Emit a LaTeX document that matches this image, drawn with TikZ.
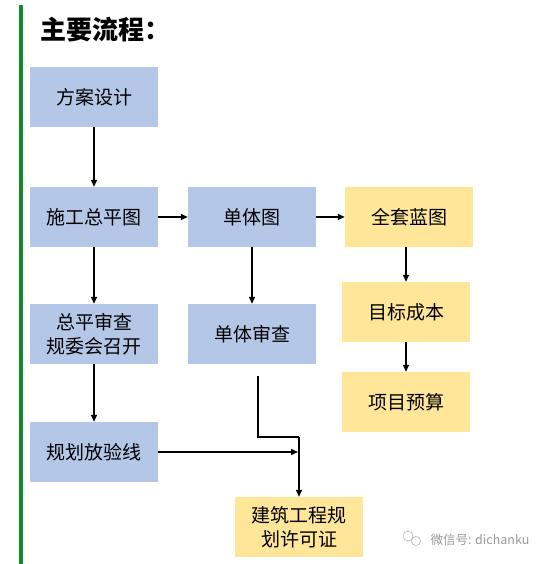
\documentclass[tikz,border=0pt]{standalone}
\usepackage{fontspec}
\setmainfont{Noto Sans CJK SC}
\usetikzlibrary{arrows.meta}

\definecolor{boxblue}{HTML}{B4C7E7}
\definecolor{boxyellow}{HTML}{FFE699}
\definecolor{bargreen}{HTML}{138A2A}

\tikzset{bb/.style={minimum width=128pt,minimum height=60pt,inner sep=0pt,
  align=center,font=\fontsize{19}{24}\selectfont,fill=boxblue}}
\tikzset{yb/.style={bb,fill=boxyellow}}
\tikzset{ar/.style={line width=1.5pt,-{Triangle[length=7pt,width=6pt]}}}

\begin{document}
\begin{tikzpicture}[x=1pt,y=-1pt]
  \useasboundingbox (0,0) rectangle (550,564);
  \fill[bargreen] (19,5) rectangle (23,564);
  \node[anchor=west,font=\fontsize{26}{30}\selectfont\bfseries] (title) at (37,30) {主要流程：};

  % left column
  \node[bb] (plan) at (94,97) {方案设计};
  \node[bb] (site) at (94,217) {施工总平图};
  \node[bb] (review) at (94,334) {总平审查\\规委会召开};
  \node[bb] (setout) at (94,452) {规划放验线};
  % middle column
  \node[bb] (mono) at (252,217) {单体图};
  \node[bb] (monorev) at (252,334) {单体审查};
  % right column
  \node[yb] (blue) at (409,217) {全套蓝图};
  \node[yb] (target) at (406,312) {目标成本};
  \node[yb] (budget) at (406,402) {项目预算};
  \node[yb] (permit) at (299,527) {建筑工程规\\划许可证};

  \draw[ar] (plan) -- (site);
  \draw[ar] (site) -- (mono);
  \draw[ar] (mono) -- (blue);
  \draw[ar] (blue.south -| target) -- (target);
  \draw[ar] (target) -- (budget);
  \draw[ar] (site) -- (review);
  \draw[ar] (mono) -- (monorev);
  \draw[ar] (review) -- (setout);

  \coordinate (m1) at (258,376);
  \coordinate (m2) at (299,437);
  \coordinate (join) at (298,452);
  \draw[ar] (setout) -- (join);
  \draw[line width=1.5pt] (m1) |- (m2);
  \draw[ar] (m2) -- (permit);

  % watermark
  \draw[gray!60,line width=0.6pt] (408,536) circle (5pt) (416,541) circle (4.5pt);
  \node[anchor=west,text=gray!80,font=\fontsize{12.5}{14}\selectfont] (mark) at (427,540) {微信号: dichanku};
\end{tikzpicture}
\end{document}
